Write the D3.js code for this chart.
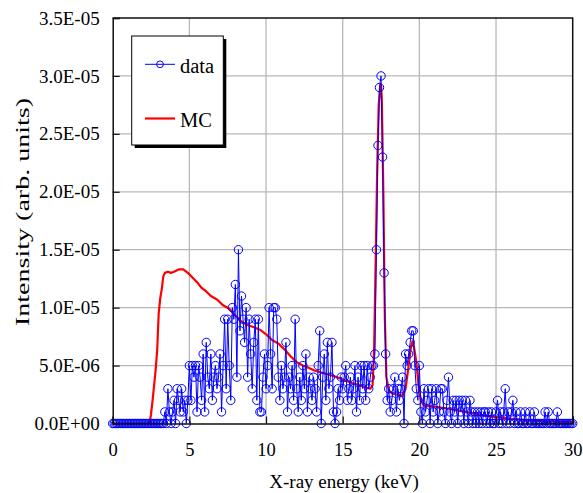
<!DOCTYPE html>
<html><head><meta charset="utf-8">
<script src="https://cdn.jsdelivr.net/npm/d3@7"></script>
<style>body{margin:0;background:#fff} svg{display:block}</style>
</head><body>
<svg id="c" width="583" height="493"></svg>
<script>
// ---- data ----
const xTicks = [0, 5, 10, 15, 20, 25, 30];
const yTicks = [0, 5e-6, 1e-5, 1.5e-5, 2e-5, 2.5e-5, 3e-5, 3.5e-5];
const binWidth = 0.1; // keV
const unit = 1e-6;    // values below are in units of 1E-06
// measured intensity, one value per 0.1 keV bin from 0.0 to 30.0 keV
const dataValues = [
  0,0,0,0,0,0,0,0,0,0,          // 0.0-0.9
  0,0,0,0,0,0,0,0,0,0,          // 1.0-1.9
  0,0,0,0,0,0,0,0,0,0,          // 2.0-2.9
  0,0,0,0,1,0,3,1,0,1,          // 3.0-3.9
  2,0,3,2,1,3,1,2,0,2,          // 4.0-4.9
  5,2,5,4,5,1,5,4,2,6,          // 5.0-5.9
  1,7,4,3,6,2,4,5,3,4,          // 6.0-6.9
  6,1,5,9,3,9,5,2,10,9,         // 7.0-7.9
  12,4,15,8,11,9,7,10,4,9,      // 8.0-8.9
  6,3,7,9,2,9,1,1,4,6,          // 9.0-9.9
  3,5,10,6,3,10,10,9,4,2,       // 10.0-10.9
  5,3,4,7,1,4,3,5,2,9,          // 11.0-11.9
  3,1,4,2,5,3,6,1,4,3,          // 12.0-12.9
  2,4,3,1,5,8,0,4,6,2,          // 13.0-13.9
  7,3,4,7,1,0,1,3,2,4,          // 14.0-14.9
  3,4,5,2,3,4,2,3,5,1,          // 15.0-15.9
  4,2,5,3,5,2,5,3,4,5,          // 16.0-16.9
  5,6,15,24,29,30,23,13,6,2,    // 17.0-17.9
  3,1,2,3,4,1,3,2,3,4,          // 18.0-18.9
  0,6,5,6,7,8,8,5,3,2,          // 19.0-19.9
  5,1,0,3,1,2,3,0,3,1,          // 20.0-20.9
  2,3,0,1,3,3,1,0,2,4,          // 21.0-21.9
  1,0,2,1,2,0,2,1,2,0,          // 22.0-22.9
  2,1,0,2,1,0,1,0,1,0,          // 23.0-23.9
  1,0,1,1,0,1,0,1,0,0,          // 24.0-24.9
  1,2,0,1,0,1,3,0,1,0,          // 25.0-25.9
  1,2,0,1,0,0,1,0,0,1,          // 26.0-26.9
  0,0,1,0,0,1,0,0,0,0,          // 27.0-27.9
  0,0,1,0,1,0,0,0,0,0,          // 28.0-28.9
  1,0,0,0,0,0,0,0,0,0,          // 29.0-29.9
  0                             // 30.0
];
// Monte Carlo curve (energy keV, intensity in units of 1E-06)
const mcEnergy = [0,2.4,2.5,2.6,2.7,2.8,2.9,3.0,3.1,3.2,3.3,3.4,3.6,3.8,4.0,4.3,4.6,4.9,5.2,5.5,5.8,6.1,6.4,6.8,7.2,7.6,8.0,8.4,8.8,9.2,9.6,10.0,10.4,10.8,11.2,11.6,12.0,12.4,12.8,13.2,13.6,14.0,14.4,14.8,15.2,15.6,16.0,16.4,16.8,16.95,17.05,17.15,17.25,17.35,17.45,17.5,17.55,17.65,17.75,17.85,18.0,18.2,18.5,18.9,19.1,19.3,19.45,19.55,19.65,19.8,19.95,20.1,20.3,21.0,22.0,23.0,24.0,25.0,26.0,27.0,28.0,29.0,30.0];
const mcValues = [0,0,0.8,2.0,3.3,4.6,6.3,9.5,10.8,11.6,12.7,13.0,13.1,13.0,13.1,13.3,13.3,13.0,12.6,12.2,11.7,11.4,11.0,10.7,10.2,9.9,9.3,8.8,8.5,8.3,8.1,7.7,7.2,6.9,6.4,5.8,5.3,5.0,4.8,4.55,4.4,4.25,4.1,3.9,3.7,3.5,3.35,3.15,3.0,3.3,6.5,14,22,27.5,29.2,29.2,28,20,9,4,2.9,2.6,2.5,2.4,3.0,5.0,6.6,7.1,6.6,5.3,3.3,2.0,1.55,1.45,1.25,1.0,0.75,0.55,0.4,0.3,0.2,0.15,0.1];
const legendLabels = ["data", "MC"];

// ---- drawing ----
const svg = d3.select("#c");
const L = 112.7, R = 572.7, T = 18, B = 423.5;
const x = d3.scaleLinear().domain([0, 30]).range([L, R]);
const y = d3.scaleLinear().domain([0, 3.5e-5]).range([B, T]);
const font = "'Liberation Serif','Times New Roman',serif";

const dataPts = dataValues.map((v, i) => ({e: i * binWidth, v: v * unit}));
const mcPts = mcEnergy.map((e, i) => ({e, v: mcValues[i] * unit}));

// grid
svg.append("g").selectAll("line").data(xTicks.slice(1, -1)).join("line")
  .attr("x1", d => x(d)).attr("x2", d => x(d)).attr("y1", T).attr("y2", B)
  .attr("stroke", "#b8b8b8").attr("stroke-width", 1.3);
svg.append("g").selectAll("line").data(yTicks.slice(1, -1)).join("line")
  .attr("y1", d => y(d)).attr("y2", d => y(d)).attr("x1", L).attr("x2", R)
  .attr("stroke", "#b8b8b8").attr("stroke-width", 1.3);

// frame top/right
svg.append("path").attr("d", `M${L},${T}H${R}V${B}`).attr("fill", "none")
  .attr("stroke", "#111").attr("stroke-width", 1.5);

// MC line
svg.append("path").datum(mcPts)
  .attr("d", d3.line().x(d => x(d.e)).y(d => y(d.v)))
  .attr("fill", "none").attr("stroke", "#ff0000").attr("stroke-width", 2.2)
  .attr("stroke-linejoin", "round");

// data line + markers
svg.append("path").datum(dataPts)
  .attr("d", d3.line().x(d => x(d.e)).y(d => y(d.v)))
  .attr("fill", "none").attr("stroke", "#0000ff").attr("stroke-width", 1);
svg.append("g").selectAll("circle").data(dataPts).join("circle")
  .attr("cx", d => x(d.e)).attr("cy", d => y(d.v)).attr("r", 4.2)
  .attr("fill", "none").attr("stroke", "#0000ff").attr("stroke-width", 1);

// axes
const fmt = v => {
  const [m, ex] = v.toExponential(1).split("e");
  const n = parseInt(ex, 10);
  return m + "E" + (n < 0 ? "-" : "+") + String(Math.abs(n)).padStart(2, "0");
};
const ax = svg.append("g").attr("transform", `translate(0,${B})`)
  .call(d3.axisBottom(x).tickValues(xTicks).tickSize(-7).tickPadding(19).tickFormat(d3.format("d")));
const ay = svg.append("g").attr("transform", `translate(${L},0)`)
  .call(d3.axisLeft(y).tickValues(yTicks).tickSize(-7).tickPadding(13).tickFormat(fmt));
[ax, ay].forEach(g => {
  g.select(".domain").attr("stroke", "#111").attr("stroke-width", 1.5);
  g.selectAll(".tick line").attr("stroke", "#111").attr("stroke-width", 1.2);
  g.selectAll("text").attr("font-family", font).attr("fill", "#000");
});
ax.selectAll("text").attr("font-size", 18.5);
ay.selectAll("text").attr("font-size", 19);

// axis titles
svg.append("text").attr("x", 344).attr("y", 488).attr("text-anchor", "middle")
  .attr("font-family", font).attr("font-size", 19).text("X-ray energy (keV)");
svg.append("text").attr("transform", "translate(29,212) rotate(-90)")
  .attr("text-anchor", "middle").attr("font-family", font).attr("font-size", 19)
  .attr("textLength", 228).attr("lengthAdjust", "spacingAndGlyphs")
  .text("Intensity (arb. units)");

// legend
const lg = svg.append("g");
lg.append("rect").attr("x", 134.7).attr("y", 39).attr("width", 91.6).attr("height", 109).attr("fill", "#000");
lg.append("rect").attr("x", 131.7).attr("y", 36).attr("width", 91.6).attr("height", 109)
  .attr("fill", "#fff").attr("stroke", "#000").attr("stroke-width", 1);
lg.append("line").attr("x1", 145).attr("x2", 175).attr("y1", 64.3).attr("y2", 64.3)
  .attr("stroke", "#0000ff").attr("stroke-width", 1);
lg.append("circle").attr("cx", 160).attr("cy", 64.3).attr("r", 3.4)
  .attr("fill", "none").attr("stroke", "#0000ff").attr("stroke-width", 1);
lg.append("line").attr("x1", 145).attr("x2", 175).attr("y1", 118.5).attr("y2", 118.5)
  .attr("stroke", "#ff0000").attr("stroke-width", 2.2);
lg.selectAll("text.lab").data(legendLabels).join("text").attr("class", "lab")
  .attr("x", 180).attr("y", (d, i) => i === 0 ? 72.5 : 126.5)
  .attr("font-family", font).attr("font-size", 20.5).text(d => d);
</script>
</body></html>
